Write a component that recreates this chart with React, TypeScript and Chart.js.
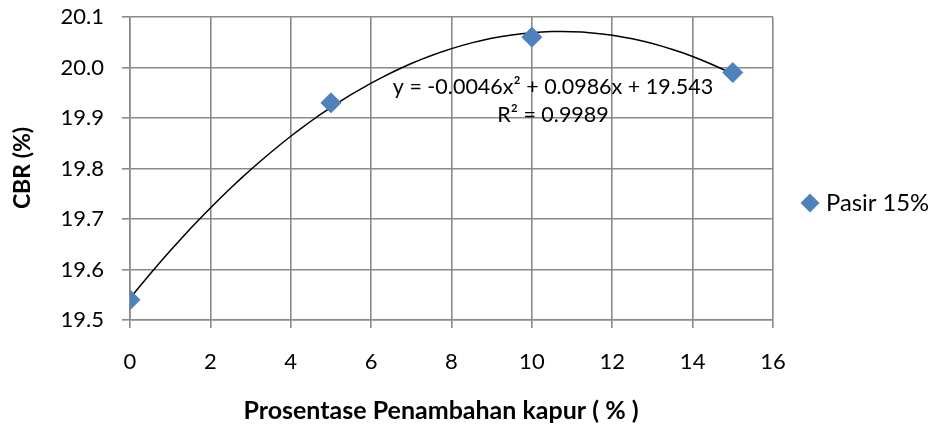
import React, { useEffect, useRef } from "react";
import { Chart, registerables } from "chart.js";

Chart.register(...registerables);

const xValues = [0, 5, 10, 15];
const cbrValues = [19.54, 19.93, 20.06, 19.99];
const seriesName = "Pasir 15%";
const trendCoeffs = [-0.0046, 0.0986, 19.543]; // a x^2 + b x + c, as printed on chart
const equationText = "y = -0.0046x² + 0.0986x + 19.543";
const r2Text = "R² = 0.9989";
const xTitle = "Prosentase Penambahan kapur ( % )";
const yTitle = "CBR (%)";

const FONT = "Lato, 'Open Sans', sans-serif";
const BLUE = "#4F81BD";
const GRID = "#8a8a8a";

export default function App() {
  const ref = useRef<HTMLCanvasElement | null>(null);

  useEffect(() => {
    if (!ref.current) return;
    const [a, b, c] = trendCoeffs;
    const trend: { x: number; y: number }[] = [];
    const xmin = xValues[0];
    const xmax = xValues[xValues.length - 1];
    const steps = 60;
    for (let i = 0; i <= steps; i++) {
      const x = xmin + ((xmax - xmin) * i) / steps;
      trend.push({ x, y: a * x * x + b * x + c });
    }

    const overlay = {
      id: "overlay",
      afterDraw(chart: any) {
        const ctx = chart.ctx;
        ctx.save();
        ctx.fillStyle = "#000";
        ctx.font = `21.5px ${FONT}`;
        ctx.textAlign = "center";
        ctx.textBaseline = "middle";
        ctx.fillText(equationText, 553, 87);
        ctx.fillText(r2Text, 553, 115);
        // x axis title
        ctx.font = `bold 25px ${FONT}`;
        ctx.fillText(xTitle, 441, 411);
        // y axis title
        ctx.save();
        ctx.translate(23, 168);
        ctx.rotate(-Math.PI / 2);
        ctx.font = `bold 23px ${FONT}`;
        ctx.fillText(yTitle, 0, 0);
        ctx.restore();
        // legend
        const lx = 810, ly = 203, r = 9.5;
        ctx.fillStyle = BLUE;
        ctx.beginPath();
        ctx.moveTo(lx - r, ly);
        ctx.lineTo(lx, ly - r);
        ctx.lineTo(lx + r, ly);
        ctx.lineTo(lx, ly + r);
        ctx.closePath();
        ctx.fill();
        ctx.fillStyle = "#000";
        ctx.textAlign = "left";
        ctx.font = `23.8px ${FONT}`;
        ctx.fillText(seriesName, 826, ly);
        ctx.restore();
      },
    };

    const chart = new Chart(ref.current, {
      type: "scatter",
      data: {
        datasets: [
          {
            label: seriesName,
            data: xValues.map((x, i) => ({ x, y: cbrValues[i] })),
            backgroundColor: BLUE,
            borderColor: BLUE,
            pointStyle: "rectRot",
            pointRadius: 10,
            pointHoverRadius: 10,
            order: 1,
          },
          {
            label: "trend",
            data: trend,
            showLine: true,
            borderColor: "#000",
            borderWidth: 1.5,
            pointRadius: 0,
            fill: false,
            order: 2,
          } as any,
        ],
      },
      options: {
        animation: false,
        responsive: false,
        devicePixelRatio: 1,
        layout: { padding: { left: 0, right: 159, top: 17, bottom: 0 } },
        plugins: { legend: { display: false }, tooltip: { enabled: false } },
        scales: {
          x: {
            type: "linear",
            min: 0,
            max: 16,
            ticks: {
              stepSize: 2,
              color: "#000",
              font: { family: FONT, size: 22 },
              padding: 21,
              maxRotation: 0,
            },
            grid: { color: GRID, lineWidth: 1.6, tickLength: 8, tickColor: GRID },
            border: { color: GRID, width: 1.6 },
            afterFit: (s: any) => {
              s.height = 107;
              s.paddingLeft = 0;
              s.paddingRight = 0;
            },
          },
          y: {
            min: 19.5,
            max: 20.1,
            ticks: {
              stepSize: 0.1,
              color: "#000",
              font: { family: FONT, size: 22 },
              padding: 18,
              callback: (v: any) => Number(v).toFixed(1),
            },
            grid: { color: GRID, lineWidth: 1.6, tickLength: 8, tickColor: GRID },
            border: { color: GRID, width: 1.6 },
            afterFit: (s: any) => {
              s.width = 130;
              s.paddingTop = 0;
              s.paddingBottom = 0;
            },
          },
        },
      },
      plugins: [overlay],
    });
    return () => chart.destroy();
  }, []);

  return (
    <div style={{ position: "absolute", left: 0, top: 0, width: 932, height: 427, background: "#fff" }}>
      <canvas ref={ref} width={932} height={427} />
    </div>
  );
}
